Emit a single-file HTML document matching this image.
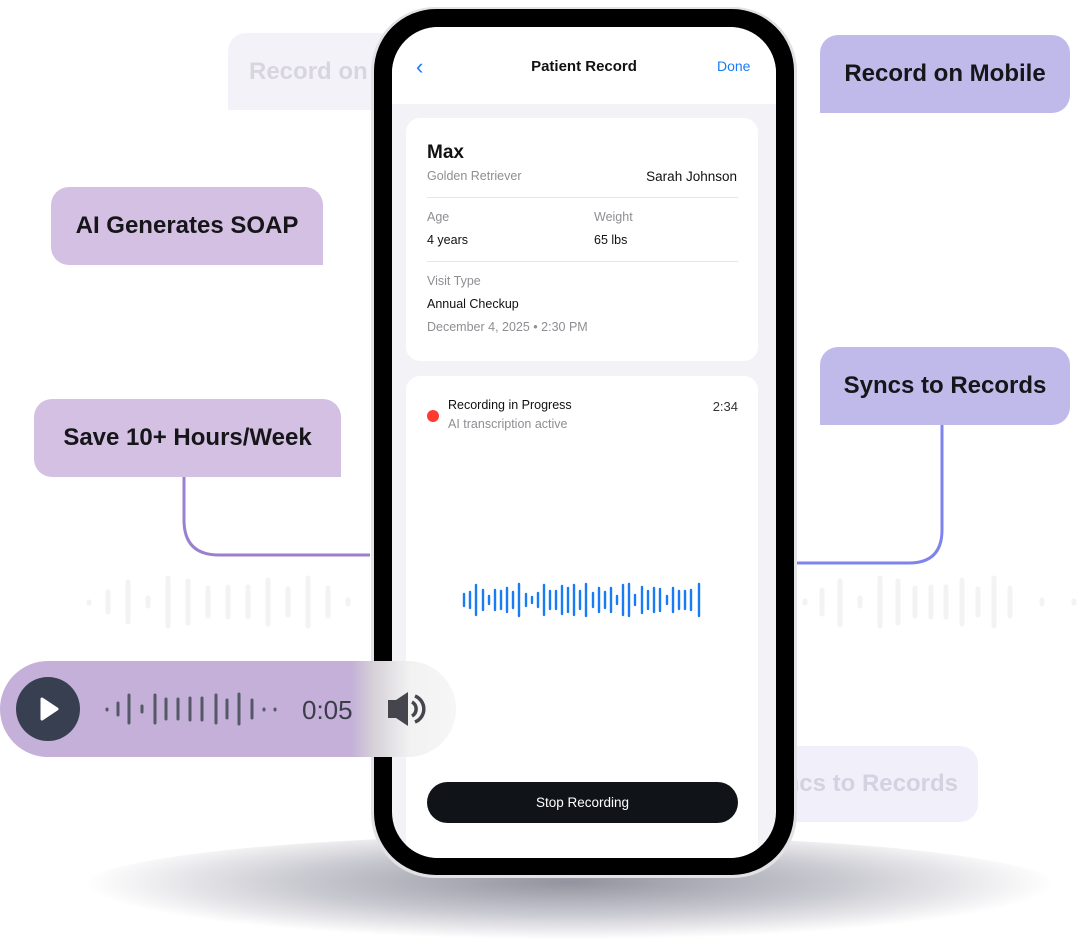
<!DOCTYPE html>
<html><head><meta charset="utf-8"><style>
*{margin:0;padding:0;box-sizing:border-box}
body{width:1080px;height:940px;background:#fff;position:relative;overflow:hidden;font-family:"Liberation Sans",sans-serif}
.abs{position:absolute}
.lbl{position:absolute;display:flex;align-items:center;justify-content:center;font-size:24px;font-weight:bold;color:#15151a;height:78px;white-space:nowrap;overflow:hidden}
</style></head><body>
<!-- shadow -->
<div class="abs" style="left:80px;top:835px;width:980px;height:105px;border-radius:50%;background:radial-gradient(ellipse at 50% 45%,rgba(120,120,135,.8) 0%,rgba(150,150,165,.5) 40%,rgba(255,255,255,0) 70%)"></div>

<!-- faded labels -->
<div class="lbl" style="left:228px;top:33px;width:160px;height:77px;background:#f4f2f9;color:#d8d5df;border-radius:18px 0 0 0;justify-content:flex-start;padding-left:21px">Record on</div>
<div class="lbl" style="left:700px;top:746px;width:278px;height:76px;background:#f1f0fa;color:#d4d2e0;border-radius:0 18px 18px 0;justify-content:flex-end;padding-right:20px">Syncs to Records</div>

<!-- connectors -->
<svg class="abs" style="left:0;top:0" width="1080" height="940">
<defs>
<linearGradient id="gl" x1="0" y1="0" x2="0" y2="1"><stop offset="0" stop-color="#ebe4f3"/><stop offset="1" stop-color="#c8b6e0"/></linearGradient>
<linearGradient id="gr" x1="0" y1="0" x2="0" y2="1"><stop offset="0" stop-color="#e6e8f8"/><stop offset="1" stop-color="#a8acf0"/></linearGradient>
</defs>
<line x1="185" y1="265" x2="185" y2="399" stroke="url(#gl)" stroke-width="2"/>
<path d="M184 477 V520 Q184 555 219 555 H370" fill="none" stroke="#9a80cf" stroke-width="3"/>
<line x1="942" y1="113" x2="942" y2="347" stroke="url(#gr)" stroke-width="2"/>
<path d="M942 425 V530 Q942 563 909 563 H790" fill="none" stroke="#7d84ec" stroke-width="3"/>
<g stroke="#f3f3f5" stroke-width="5" stroke-linecap="round">
<line x1="89" y1="602" x2="89" y2="603"/><line x1="108" y1="592" x2="108" y2="612"/><line x1="128" y1="582" x2="128" y2="622"/><line x1="148" y1="598" x2="148" y2="606"/><line x1="168" y1="578" x2="168" y2="626"/><line x1="188" y1="581" x2="188" y2="623"/><line x1="208" y1="588" x2="208" y2="616"/><line x1="228" y1="587" x2="228" y2="617"/><line x1="248" y1="587" x2="248" y2="617"/><line x1="268" y1="580" x2="268" y2="624"/><line x1="288" y1="589" x2="288" y2="615"/><line x1="308" y1="578" x2="308" y2="626"/><line x1="328" y1="588" x2="328" y2="616"/><line x1="348" y1="600" x2="348" y2="604"/>
<line x1="805" y1="601" x2="805" y2="603"/><line x1="822" y1="590" x2="822" y2="614"/><line x1="840" y1="581" x2="840" y2="625"/><line x1="860" y1="598" x2="860" y2="606"/><line x1="880" y1="578" x2="880" y2="626"/><line x1="898" y1="581" x2="898" y2="623"/><line x1="915" y1="588" x2="915" y2="616"/><line x1="931" y1="587" x2="931" y2="617"/><line x1="946" y1="587" x2="946" y2="617"/><line x1="962" y1="580" x2="962" y2="624"/><line x1="978" y1="589" x2="978" y2="615"/><line x1="994" y1="578" x2="994" y2="626"/><line x1="1010" y1="588" x2="1010" y2="616"/><line x1="1042" y1="600" x2="1042" y2="604"/><line x1="1074" y1="601" x2="1074" y2="603"/>
</g>
</svg>

<!-- labels -->
<div class="lbl" style="left:820px;top:35px;width:250px;background:#c0baea;border-radius:18px 18px 18px 0">Record on Mobile</div>
<div class="lbl" style="left:820px;top:347px;width:250px;background:#c0baea;border-radius:18px 18px 18px 0">Syncs to Records</div>
<div class="lbl" style="left:51px;top:187px;width:272px;background:#d4c0e2;border-radius:18px 18px 0 18px">AI Generates SOAP</div>
<div class="lbl" style="left:34px;top:399px;width:307px;background:#d4c0e2;border-radius:18px 18px 0 18px">Save 10+ Hours/Week</div>

<!-- phone -->
<div class="abs" style="left:371px;top:7px;width:426px;height:871px;border-radius:64px;background:#e2e2e6"></div>
<div class="abs" style="left:374px;top:9px;width:420px;height:866px;border-radius:62px;background:#000"></div>
<div class="abs" style="left:392px;top:27px;width:384px;height:831px;border-radius:46px;background:#f2f2f7;overflow:hidden">
  <div class="abs" style="left:0;top:0;width:384px;height:77px;background:#fff"></div>
  <div class="abs" style="left:24px;top:27px;font-size:22px;color:#1a7cf5">&#8249;</div>
  <div class="abs" style="left:0;top:31px;width:384px;text-align:center;font-size:15px;font-weight:bold;color:#111">Patient Record</div>
  <div class="abs" style="left:325px;top:31px;font-size:14px;color:#1a7cf5">Done</div>
  <div class="abs" style="left:14px;top:91px;width:352px;height:243px;background:#fff;border-radius:14px">
    <div class="abs" style="left:21px;top:24px;font-size:19px;font-weight:bold;color:#111">Max</div>
    <div class="abs" style="left:21px;top:51px;font-size:12.5px;color:#8e8e93">Golden Retriever</div>
    <div class="abs" style="right:21px;top:51px;font-size:13.5px;color:#111">Sarah Johnson</div>
    <div class="abs" style="left:21px;top:79px;width:311px;height:1px;background:#e5e5ea"></div>
    <div class="abs" style="left:21px;top:92px;font-size:12.5px;color:#8e8e93">Age</div>
    <div class="abs" style="left:188px;top:92px;font-size:12.5px;color:#8e8e93">Weight</div>
    <div class="abs" style="left:21px;top:115px;font-size:12.5px;color:#111">4 years</div>
    <div class="abs" style="left:188px;top:115px;font-size:12.5px;color:#111">65 lbs</div>
    <div class="abs" style="left:21px;top:143px;width:311px;height:1px;background:#e5e5ea"></div>
    <div class="abs" style="left:21px;top:156px;font-size:12.5px;color:#8e8e93">Visit Type</div>
    <div class="abs" style="left:21px;top:179px;font-size:12.5px;color:#111">Annual Checkup</div>
    <div class="abs" style="left:21px;top:202px;font-size:12.5px;color:#8e8e93">December 4, 2025 • 2:30 PM</div>
  </div>
  <div class="abs" style="left:14px;top:349px;width:352px;height:500px;background:#fff;border-radius:14px">
    <div class="abs" style="left:21px;top:34px;width:12px;height:12px;border-radius:50%;background:#ff3b30"></div>
    <div class="abs" style="left:42px;top:22px;font-size:12.5px;color:#111">Recording in Progress</div>
    <div class="abs" style="left:42px;top:41px;font-size:12.5px;color:#8e8e93">AI transcription active</div>
    <div class="abs" style="right:20px;top:23px;font-size:13px;color:#333">2:34</div>
    <div class="abs" style="left:21px;top:406px;width:311px;height:41px;border-radius:21px;background:#101418;color:#fff;font-size:13.5px;display:flex;align-items:center;justify-content:center">Stop Recording</div>
  </div>
</div>
<svg class="abs" style="left:0;top:0" width="1080" height="940">
<g stroke="#1a7cf5" stroke-width="2.4" stroke-linecap="round">
<line x1="464" y1="594" x2="464" y2="606"/><line x1="470" y1="592" x2="470" y2="608"/><line x1="476" y1="585" x2="476" y2="615"/><line x1="483" y1="590" x2="483" y2="610"/><line x1="489" y1="596" x2="489" y2="604"/><line x1="495" y1="590" x2="495" y2="610"/><line x1="501" y1="591" x2="501" y2="609"/><line x1="507" y1="588" x2="507" y2="612"/><line x1="513" y1="592" x2="513" y2="608"/><line x1="519" y1="584" x2="519" y2="616"/><line x1="526" y1="594" x2="526" y2="606"/><line x1="532" y1="597" x2="532" y2="603"/><line x1="538" y1="593" x2="538" y2="607"/><line x1="544" y1="585" x2="544" y2="615"/><line x1="550" y1="591" x2="550" y2="609"/><line x1="556" y1="591" x2="556" y2="609"/><line x1="562" y1="586" x2="562" y2="614"/><line x1="568" y1="588" x2="568" y2="612"/><line x1="574" y1="585" x2="574" y2="615"/><line x1="580" y1="591" x2="580" y2="609"/><line x1="586" y1="584" x2="586" y2="616"/><line x1="593" y1="593" x2="593" y2="607"/><line x1="599" y1="588" x2="599" y2="612"/><line x1="605" y1="592" x2="605" y2="608"/><line x1="611" y1="588" x2="611" y2="612"/><line x1="617" y1="596" x2="617" y2="604"/><line x1="623" y1="585" x2="623" y2="615"/><line x1="629" y1="584" x2="629" y2="616"/><line x1="635" y1="595" x2="635" y2="605"/><line x1="642" y1="587" x2="642" y2="613"/><line x1="648" y1="591" x2="648" y2="609"/><line x1="654" y1="588" x2="654" y2="612"/><line x1="660" y1="589" x2="660" y2="611"/><line x1="667" y1="596" x2="667" y2="604"/><line x1="673" y1="588" x2="673" y2="612"/><line x1="679" y1="591" x2="679" y2="609"/><line x1="685" y1="591" x2="685" y2="609"/><line x1="691" y1="590" x2="691" y2="610"/><line x1="699" y1="584" x2="699" y2="616"/>
</g>
</svg>

<!-- audio pill -->
<div class="abs" style="left:0;top:661px;width:456px;height:96px;border-radius:48px;background:linear-gradient(90deg,#c4b0d8 0%,#c4b0d8 77%,#d6d2d8 82%,#f2f2f2 90%,#f6f6f6 100%)"></div>
<svg class="abs" style="left:0;top:0" width="1080" height="940">
<circle cx="48" cy="709" r="32" fill="#373f50"/>
<path d="M42 699 L57 709 L42 719 Z" fill="#fff" stroke="#fff" stroke-width="3" stroke-linejoin="round"/>
<g stroke="#555866" stroke-width="3" stroke-linecap="round">
<line x1="107" y1="709" x2="107" y2="710"/><line x1="118" y1="703" x2="118" y2="715"/><line x1="129" y1="695" x2="129" y2="723"/><line x1="142" y1="706" x2="142" y2="712"/><line x1="155" y1="695" x2="155" y2="723"/><line x1="166" y1="699" x2="166" y2="719"/><line x1="178" y1="699" x2="178" y2="719"/><line x1="190" y1="698" x2="190" y2="720"/><line x1="202" y1="698" x2="202" y2="720"/><line x1="216" y1="695" x2="216" y2="723"/><line x1="227" y1="700" x2="227" y2="718"/><line x1="239" y1="694" x2="239" y2="724"/><line x1="252" y1="700" x2="252" y2="718"/><line x1="264" y1="709" x2="264" y2="710"/><line x1="275" y1="709" x2="275" y2="710"/>
</g>
<text x="302" y="719" font-family="Liberation Sans, sans-serif" font-size="26" fill="#3d3d4a">0:05</text>
<path d="M388 700 H396 L408 692 V726 L396 718 H388 Z" fill="#45454e"/>
<path d="M412 702 A8 8 0 0 1 412 716" fill="none" stroke="#45454e" stroke-width="3.5"/>
<path d="M415 696 A14 14 0 0 1 415 722" fill="none" stroke="#45454e" stroke-width="3.5"/>
</svg>
</body></html>
